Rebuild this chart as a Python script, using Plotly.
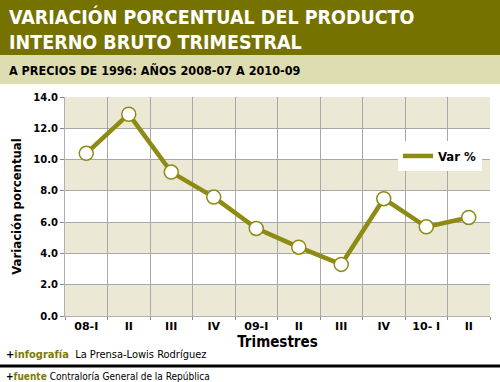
import plotly.graph_objects as go

categories = ["08-I", "II ", "III ", "IV ", "09-I", "II  ", "III  ", "IV  ", "10- I", "II   "]
tick_labels = ["08-I", "II", "III", "IV", "09-I", "II", "III", "IV", "10- I", "II"]
values = [10.4, 12.9, 9.2, 7.6, 5.6, 4.4, 3.3, 7.5, 5.7, 6.3]
y_ticks = [0, 2, 4, 6, 8, 10, 12, 14]

OLIVE_DARK = "#767200"
BAND_HEAD = "#deddb2"
BAND_PLOT = "#ebe9d6"
LINE = "#8e8b14"
COND = "DejaVu Sans Condensed"

W, H = 500, 382
L, R, T, B = 65, 10, 97, 66
pw, ph = W - L - R, H - T - B

def px(x):
    return (x - L) / pw

def py(y):
    return (H - B - y) / ph

fig = go.Figure()

fig.add_trace(go.Scatter(
    x=categories, y=values, mode="lines", name="Var %",
    line=dict(color=LINE, width=4.5), showlegend=True, hoverinfo="skip"))
fig.add_trace(go.Scatter(
    x=categories, y=values, mode="markers", showlegend=False,
    marker=dict(size=14, color="white", line=dict(color=LINE, width=1.5))))

shapes = []
shapes.append(dict(type="rect", xref="paper", yref="paper", x0=px(0), x1=px(W),
                   y0=py(55), y1=py(0), fillcolor=OLIVE_DARK, line_width=0, layer="below"))
shapes.append(dict(type="rect", xref="paper", yref="paper", x0=px(0), x1=px(W),
                   y0=py(84), y1=py(55), fillcolor=BAND_HEAD, line_width=0, layer="below"))
for i in range(0, 14, 4):
    shapes.append(dict(type="rect", xref="paper", yref="y", x0=0, x1=1,
                       y0=i, y1=i + 2, fillcolor=BAND_PLOT, line_width=0, layer="below"))
shapes.append(dict(type="rect", xref="paper", yref="y", x0=0, x1=1,
                   y0=12, y1=14, fillcolor=BAND_PLOT, line_width=0, layer="below"))
shapes.append(dict(type="line", xref="paper", yref="paper", x0=px(0), x1=px(W),
                   y0=py(366), y1=py(366), line=dict(color="black", width=3)))

annotations = [
    dict(text="VARIACIÓN PORCENTUAL DEL PRODUCTO<br>INTERNO BRUTO TRIMESTRAL",
         xref="paper", yref="paper", x=px(7), y=py(3), xanchor="left", yanchor="top",
         align="left", showarrow=False,
         font=dict(family=COND, size=19.5, color="white", weight="bold")),
    dict(text="A PRECIOS DE 1996: AÑOS 2008-07 A 2010-09",
         xref="paper", yref="paper", x=px(7), y=py(71), xanchor="left", yanchor="middle",
         showarrow=False,
         font=dict(family=COND, size=12.5, color="black", weight="bold")),
    dict(text="<b>+</b><span style='color:#7d7a05'><b>infografía</b></span>  La Prensa-Lowis Rodríguez",
         xref="paper", yref="paper", x=px(4), y=py(354), xanchor="left", yanchor="middle",
         showarrow=False,
         font=dict(family=COND, size=11, color="black")),
    dict(text="<b>+</b><span style='color:#7d7a05'><b>fuente</b></span> Contraloría General de la República",
         xref="paper", yref="paper", x=px(4), y=py(376), xanchor="left", yanchor="middle",
         showarrow=False,
         font=dict(family=COND, size=10, color="black")),
]

fig.update_layout(
    width=W, height=H,
    margin=dict(l=L, r=R, t=T, b=B),
    paper_bgcolor="white", plot_bgcolor="white",
    shapes=shapes, annotations=annotations,
    showlegend=True,
    legend=dict(x=px(398), y=py(141), xanchor="left", yanchor="top",
                bgcolor="white", borderwidth=0,
                font=dict(family=COND, size=13, color="black", weight="bold"),
                itemwidth=30),
    xaxis=dict(
        type="category", tickvals=categories, ticktext=tick_labels,
        tickson="boundaries", ticks="outside", ticklen=3, tickcolor="#888",
        showgrid=True, gridcolor="#a8a8a8", gridwidth=1,
        showline=True, linecolor="#b0b0b0", linewidth=1, automargin=False,
        range=[-0.5, len(categories) - 0.5],
        tickfont=dict(family="DejaVu Sans", size=11, color="black", weight="bold"),
        title=dict(text="Trimestres", standoff=4,
                   font=dict(family=COND, size=15, color="black", weight="bold")),
    ),
    yaxis=dict(
        range=[0, 14], tickvals=y_ticks, ticktext=[f"{v:.1f}" for v in y_ticks],
        ticks="outside", ticklen=4, tickcolor="#888",
        showgrid=True, gridcolor="#a8a8a8", gridwidth=1,
        showline=True, linecolor="#b0b0b0", linewidth=1, zeroline=False, automargin=False,
        tickfont=dict(family="DejaVu Sans", size=10, color="black", weight="bold"),
        title=dict(text="Variación porcentual", standoff=8,
                   font=dict(family=COND, size=13, color="black", weight="bold")),
    ),
)

fig.write_html("out.html", config={"displayModeBar": False},
               post_script="document.body.style.margin='0';")
